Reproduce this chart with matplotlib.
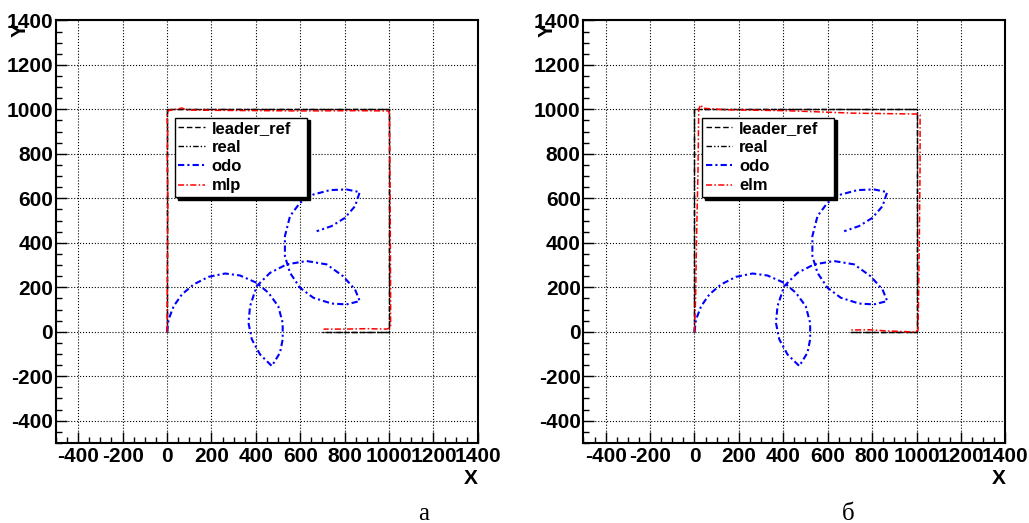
import matplotlib.pyplot as plt
from matplotlib.ticker import MultipleLocator

plt.rcParams['font.family'] = ['Liberation Sans', 'DejaVu Sans']
plt.rcParams['font.weight'] = 'bold'
plt.rcParams['axes.unicode_minus'] = False

# reference trajectory of the leader and the real path
leader_x = [0, 0, 1000, 1000, 700]
leader_y = [0, 1000, 1000, 0, 0]
real_x = [0, 0, 1000, 1000, 710]
real_y = [0, 1000, 1000, 0, 0]

# odometry (same in both panels)
odo_x = [0, 7, 30, 67, 120, 187, 262, 329, 404, 457, 501, 521, 521, 509, 472,
         419, 382, 367, 374, 404, 464, 539, 629, 719, 793, 847, 868,
         808, 741, 659, 599, 554, 531, 531, 554, 599, 659, 734, 808, 868,
         847, 801, 741, 674]
odo_y = [0, 55, 115, 168, 213, 247, 262, 253, 220, 175, 115, 40, -34, -94, -154,
         -102, -34, 40, 115, 205, 265, 303, 318, 303, 250, 190, 138,
         123, 127, 153, 198, 265, 340, 430, 520, 580, 617, 637, 640, 628,
         565, 512, 475, 452]

# estimate of the mlp network (panel a)
mlp_x = [0, 2, 4, 1, 3, 0, 8, 40, 67, 90, 300, 600, 850, 997, 1002, 1005,
         1007, 1007, 990, 900, 800, 705]
mlp_y = [0, 300, 600, 800, 900, 985, 995, 1000, 1006, 997, 995, 993, 994,
         993, 980, 600, 150, 20, 12, 14, 12, 12]

# estimate of the elm network (panel b)
elm_x = [0, 5, 9, 16, 19, 28, 39, 144, 414, 714, 999, 1016, 1016, 1013,
         1009, 1007, 996, 864, 789, 705]
elm_y = [0, 150, 400, 730, 1001, 1020, 1005, 998, 994, 983, 979, 974, 746,
         445, 144, 9, -1, 4, 9, 8]

ticks = [-400, -200, 0, 200, 400, 600, 800, 1000, 1200, 1400]


def draw_panel(ax, est_x, est_y, est_name):
    ax.plot(leader_x, leader_y, color='black', lw=1.0, ls=(0, (4, 2)), label='leader_ref')
    ax.plot(real_x, real_y, color='black', lw=1.0, ls=(0, (4, 1.5, 1, 1.5, 1, 1.5)), label='real')
    ax.plot(odo_x, odo_y, color='blue', lw=1.5, ls=(0, (3, 1.5, 1, 1.5)), label='odo')
    ax.plot(est_x, est_y, color='red', lw=1.1, ls=(0, (4, 1.5, 1, 1.5)), label=est_name)

    ax.set_xlim(-500, 1400)
    ax.set_ylim(-500, 1400)
    ax.set_xticks(ticks)
    ax.set_yticks(ticks)
    ax.xaxis.set_minor_locator(MultipleLocator(50))
    ax.yaxis.set_minor_locator(MultipleLocator(50))
    ax.tick_params(which='both', direction='in', top=False, right=False,
                   labelsize=15, width=1)
    ax.tick_params(which='major', length=8)
    ax.tick_params(which='minor', length=4.5)
    ax.tick_params(axis='x', pad=3)
    ax.tick_params(axis='y', pad=2)
    ax.grid(True, which='major', color='black', ls=':', lw=0.8)
    for s in ax.spines.values():
        s.set_linewidth(1.5)

    ax.text(1.0, -0.083, 'X', transform=ax.transAxes, ha='right', va='center',
            fontsize=15, fontweight='bold')
    ax.text(-0.085, 0.978, 'Y', transform=ax.transAxes, ha='center', va='center',
            fontsize=15, fontweight='bold', rotation=90)

    leg = ax.legend(loc='upper left', bbox_to_anchor=(0.282, 0.57, 0.313, 0.2),
                    mode='expand', borderaxespad=0, fancybox=False, framealpha=1,
                    edgecolor='black', shadow={'color': 'black', 'alpha': 1},
                    fontsize=12, handlelength=1.6, labelspacing=0.25,
                    borderpad=0.2, handletextpad=0.4)
    leg.get_frame().set_linewidth(1.0)


fig = plt.figure(figsize=(10.29, 5.23), dpi=100)
ax1 = fig.add_axes([0.0544, 0.153, 0.410, 0.808])
ax2 = fig.add_axes([0.567, 0.153, 0.410, 0.808])

draw_panel(ax1, mlp_x, mlp_y, 'mlp')
draw_panel(ax2, elm_x, elm_y, 'elm')

fig.text(424 / 1029, 1 - 514 / 523, 'а', ha='center', va='center',
         fontsize=18, fontweight='normal', family='Liberation Serif')
fig.text(848 / 1029, 1 - 514 / 523, 'б', ha='center', va='center',
         fontsize=18, fontweight='normal', family='Liberation Serif')

fig.savefig('out.png', dpi=100)
